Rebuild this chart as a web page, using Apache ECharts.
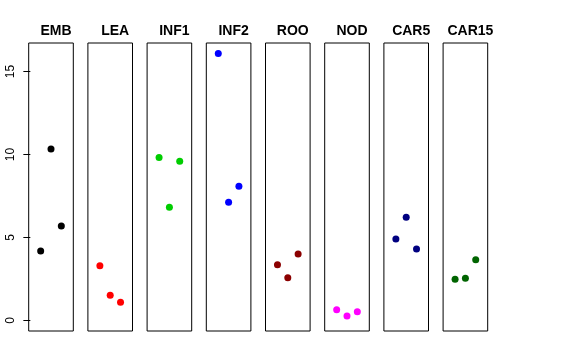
<!DOCTYPE html>
<html><head><meta charset="utf-8">
<script src="https://cdn.jsdelivr.net/npm/echarts@6/dist/echarts.min.js"></script>
<style>html,body{margin:0;padding:0;background:#fff}#c{width:576px;height:360px}</style>
</head><body><div id="c"></div>
<script>
const categories = ["EMB","LEA","INF1","INF2","ROO","NOD","CAR5","CAR15"];
const colors = ["#000000","#FF0000","#00CD00","#0000FF","#8B0000","#FF00FF","#000080","#006400"];
const xPositions = [1, 2, 3];
const EMB = [4.18, 10.33, 5.69];
const LEA = [3.29, 1.51, 1.09];
const INF1 = [9.81, 6.82, 9.59];
const INF2 = [16.08, 7.12, 8.08];
const ROO = [3.35, 2.57, 4.00];
const NOD = [0.64, 0.26, 0.52];
const CAR5 = [4.90, 6.21, 4.30];
const CAR15 = [2.47, 2.53, 3.66];
const yTicks = [0, 5, 10, 15];
const seriesValues = [EMB, LEA, INF1, INF2, ROO, NOD, CAR5, CAR15];

const chart = echarts.init(document.getElementById('c'), null, {renderer:'canvas'});
const gl = 28.7, step = 59.2, gw = 44.6, gt = 43, gh = 288;
const grids = [], xAxes = [], yAxes = [], series = [], titles = [];
categories.forEach((name, i) => {
  grids.push({left: gl + i*step, top: gt, width: gw, height: gh, show: true, borderColor: '#000', borderWidth: 1, backgroundColor: 'transparent'});
  xAxes.push({type:'value', gridIndex:i, min:-0.16, max:4.16, show:false});
  yAxes.push({type:'value', gridIndex:i, min:-0.643, max:16.72, show: i===0,
    splitLine:{show:false},
    axisLine:{show:false},
    axisTick:{show:true, length:7, lineStyle:{color:'#000'}, customValues: yTicks},
    axisLabel:{show:true, rotate:90, margin:12, fontSize:12, color:'#000', fontFamily:'Liberation Sans, Arial, sans-serif', customValues: yTicks}
  });
  series.push({type:'scatter', xAxisIndex:i, yAxisIndex:i, symbol:'circle', symbolSize:7,
    itemStyle:{color: colors[i], opacity: 1}, silent:true,
    data: seriesValues[i].map((v, j) => [xPositions[j], v])});
  titles.push({text: name, left: gl + i*step + gw/2, top: 19, textAlign:'center',
    textStyle:{fontSize:14, fontWeight:'bold', color:'#000', fontFamily:'Liberation Sans, Arial, sans-serif'}});
});
chart.setOption({animation:false, backgroundColor:'#fff', title: titles, grid: grids, xAxis: xAxes, yAxis: yAxes, series: series});
</script></body></html>
